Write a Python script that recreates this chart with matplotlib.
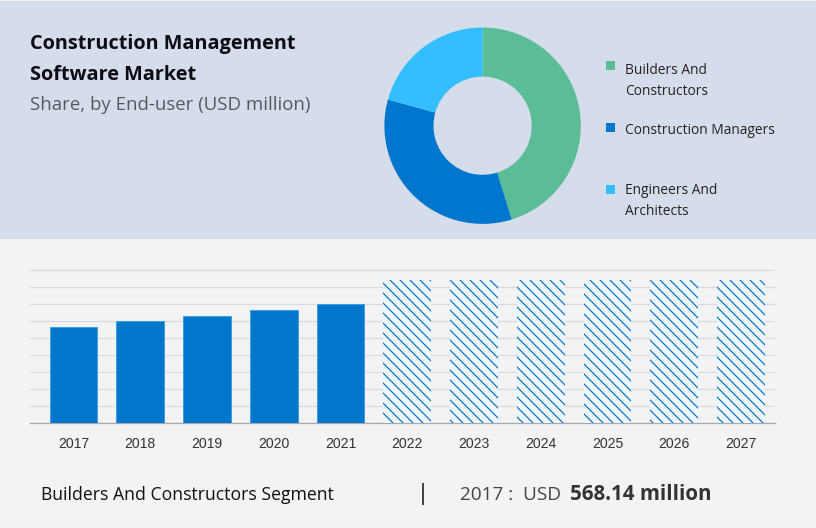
import matplotlib
matplotlib.use('Agg')
import matplotlib.pyplot as plt
from matplotlib.patches import Rectangle

W, H = 816, 528

# data
years = ['2017', '2018', '2019', '2020', '2021', '2022', '2023', '2024', '2025', '2026', '2027']
actual_values = [568.14, 600, 631, 667, 702]
forecast_values = [841, 841, 841, 841, 841, 841]
segments = ['Builders And\nConstructors', 'Construction Managers', 'Engineers And\nArchitects']
shares = [45.2, 34.1, 20.7]
share_colors = ['#5bbd95', '#0077cf', '#33bfff']
grid_ticks = [0, 100, 200, 300, 400, 500, 600, 700, 800, 900]

plt.rcParams['hatch.linewidth'] = 0.7
FONT = 'Open Sans'


def fx(px):
    return px / W


def fy(py):
    return 1 - py / H


def px_axes(left, top, right, bottom):
    return [fx(left), fy(bottom), (right - left) / W, (bottom - top) / H]


fig = plt.figure(figsize=(W / 120, H / 120), dpi=120, facecolor='#f3f3f6')

# top panel
fig.add_artist(Rectangle((0, fy(238.5)), 1, (238.5 - 1) / H, transform=fig.transFigure,
                         facecolor='#d5dcea', edgecolor='none', zorder=-1))

# donut
cx, cy, r = 482.6, 125.7, 98.2
ax_pie = fig.add_axes(px_axes(cx - r, cy - r, cx + r, cy + r))
ax_pie.pie(shares, colors=share_colors, startangle=90, counterclock=False, radius=1,
           wedgeprops={'width': 0.5, 'linewidth': 0})
ax_pie.set_xlim(-1, 1)
ax_pie.set_ylim(-1, 1)
ax_pie.patch.set_visible(False)

# legend
legend_y = [65.5, 127.5, 189.5]
text_y = [81, 131, 201]
for name, color, my, ty in zip(segments, share_colors, legend_y, text_y):
    fig.add_artist(Rectangle((fx(606), fy(my + 4.5)), 9 / W, 9 / H, transform=fig.transFigure,
                             facecolor=color, edgecolor='none'))
    fig.text(fx(625), fy(ty), name, fontsize=8.25, family=FONT, color='#222222',
             va='center', ha='left', linespacing=1.47)

# titles
fig.text(fx(30), fy(44.5), 'Construction Management', fontsize=11.95, family=FONT, weight='bold',
         color='#0c0c14', va='center')
fig.text(fx(30), fy(74.5), 'Software Market', fontsize=11.95, family=FONT, weight='bold',
         color='#0c0c14', va='center')
fig.text(fx(30), fy(104.5), 'Share, by End-user (USD million)', fontsize=11.15, family=FONT,
         color='#555a62', va='center')

# bars
px_per_unit = 0.17
base = 423.3
ymax = 910
ax = fig.add_axes(px_axes(30, base - ymax * px_per_unit, 775, base))
ax.patch.set_visible(False)
xs = list(range(len(years)))
ax.bar(xs[:5], actual_values, width=0.715, color='#0277cc', edgecolor='#3d9fe3', linewidth=0.6, zorder=3)
ax.bar(xs[5:], forecast_values, width=0.715, color='#eef5fc', edgecolor='#0270c4', linewidth=0,
       hatch='\\\\\\\\', zorder=3)
ax.set_xlim((30 - 73.5) / 66.75, (775 - 73.5) / 66.75)
ax.set_ylim(0, ymax)
ax.set_xticks(xs)
ax.set_xticklabels(years, fontsize=8.4, family='Liberation Sans', color='#333333')
ax.set_yticks(grid_ticks)
ax.tick_params(axis='x', length=0, pad=8)
ax.tick_params(axis='y', length=0, labelleft=False)
ax.yaxis.grid(True, color='#d9d9de', linewidth=0.7, zorder=0)
ax.set_axisbelow(True)
for side in ['top', 'left', 'right']:
    ax.spines[side].set_visible(False)
ax.spines['bottom'].set_color('#a8a8ae')
ax.spines['bottom'].set_linewidth(0.8)

# footer
fig.text(fx(41), fy(494.5), 'Builders And Constructors Segment', fontsize=10.6, family=FONT,
         color='#111111', va='center')
fig.add_artist(Rectangle((fx(422), fy(505)), 2 / W, 22 / H, transform=fig.transFigure,
                         facecolor='#444444', edgecolor='none'))
fig.text(fx(460), fy(494.5), '2017 :  USD', fontsize=11.4, family=FONT, color='#444444', va='center')
fig.text(fx(570), fy(494.5), '568.14 million', fontsize=12.3, family=FONT, weight='bold',
         color='#333333', va='center')

fig.savefig('out.png', dpi=120, facecolor=fig.get_facecolor())
